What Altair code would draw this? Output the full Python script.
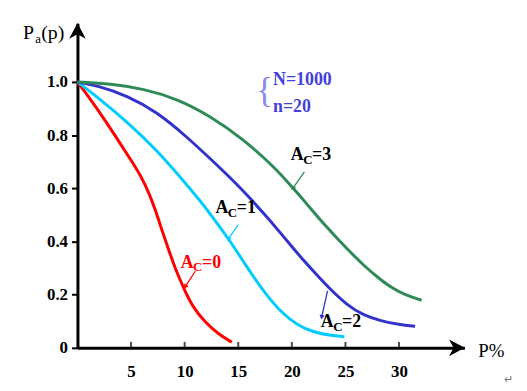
import math
import altair as alt
import pandas as pd

# ---------------- data ----------------
red_x = [0, 1.85, 3.7, 5.25, 6.0, 6.7, 7.3, 7.9, 8.5, 9.1, 9.9, 10.68, 11.9, 13.15, 14.4]
red_y = [1.0, 0.90, 0.787, 0.69, 0.64, 0.58, 0.515, 0.44, 0.37, 0.30, 0.225, 0.158, 0.096, 0.052, 0.021]

cyan_x = [0, 1.85, 4.63, 7.4, 10.2, 11.6, 12.3, 14.07, 15.8, 16.5, 17.5, 19.0, 20.6, 22.1, 23.5, 24.9]
cyan_y = [1.0, 0.943, 0.85, 0.744, 0.613, 0.545, 0.508, 0.412, 0.305, 0.263, 0.205, 0.133, 0.083, 0.058, 0.047, 0.042]

blue_x = [0, 1.85, 4.63, 7.4, 10.2, 13.0, 14.8, 16.2, 17.5, 18.7, 20.0, 21.5, 22.7, 23.3, 25.2, 26.7, 28.3, 30.0, 31.5]
blue_y = [1.0, 0.986, 0.949, 0.887, 0.794, 0.688, 0.618, 0.558, 0.50, 0.444, 0.38, 0.31, 0.258, 0.232, 0.158, 0.123, 0.101, 0.088, 0.081]

green_x = [0, 3.1, 6.17, 9.26, 12.3, 15.4, 18.5, 20.0, 20.9, 23.3, 25.2, 26.7, 28.0, 29.2, 30.5, 32.1]
green_y = [1.0, 0.993, 0.974, 0.937, 0.874, 0.787, 0.675, 0.605, 0.565, 0.45, 0.37, 0.31, 0.265, 0.228, 0.2, 0.179]

curve_names = ["Ac=0", "Ac=1", "Ac=2", "Ac=3"]
curve_colors = ["#FF0000", "#00CCFF", "#3333CC", "#2E8B57"]

x_ticks = [5, 10, 15, 20, 25, 30]
y_ticks = [0, 0.2, 0.4, 0.6, 0.8, 1.0]

# annotation labels: left x, baseline y, digit, text colour
ann_x = [9.63, 12.87, 22.7, 19.9]
ann_y = [0.302, 0.507, 0.078, 0.705]
ann_d = ["=0", "=1", "=2", "=3"]
ann_c = ["#FF0000", "#000000", "#000000", "#000000"]

# annotation arrows: start -> end (end on the curve)
arr_x1 = [10.99, 15.0, 23.33, 21.17]
arr_y1 = [0.288, 0.463, 0.214, 0.662]
arr_x2 = [10.06, 14.07, 22.78, 20.09]
arr_y2 = [0.230, 0.409, 0.115, 0.600]
arr_c = ["#FF0000", "#00CCFF", "#3333CC", "#2E8B57"]

# ---------------- geometry ----------------
X_MAX = 36.1
Y_MAX = 1.22
W = 390
H = 327
PX_X = W / X_MAX
PX_Y = H / Y_MAX

xs = alt.Scale(domain=[0, X_MAX], nice=False, zero=False)
ys = alt.Scale(domain=[0, Y_MAX], nice=False, zero=False)

FONT = "Liberation Serif"

xaxis = alt.Axis(values=x_ticks, ticks=False, labelFont=FONT, labelFontWeight="bold",
                 labelFontSize=17, labelColor="black", labelPadding=16,
                 domainColor="black", domainWidth=3, grid=False, title=None)
yaxis = alt.Axis(values=y_ticks, labelExpr="datum.value == 0 ? '0' : format(datum.value, '.1f')",
                 labelFont=FONT, labelFontWeight="bold", labelFontSize=17, labelColor="black",
                 labelPadding=4, tickColor="black", tickWidth=2, tickSize=6,
                 domainColor="black", domainWidth=3, grid=False, title=None)


def X(f):
    return alt.X(f, scale=xs, axis=xaxis)


def Y(f):
    return alt.Y(f, scale=ys, axis=yaxis)


rows = []
for name, xv, yv in zip(curve_names, [red_x, cyan_x, blue_x, green_x], [red_y, cyan_y, blue_y, green_y]):
    for a, b in zip(xv, yv):
        rows.append({"curve": name, "x": a, "y": b})
curves_df = pd.DataFrame(rows)

curves = alt.Chart(curves_df).mark_line(strokeWidth=3, interpolate="basis").encode(
    x=X("x:Q"), y=Y("y:Q"),
    color=alt.Color("curve:N", scale=alt.Scale(domain=curve_names, range=curve_colors), legend=None),
)

# inward x ticks
xt_df = pd.DataFrame({"x": x_ticks, "y": [0] * len(x_ticks)})
xticks = alt.Chart(xt_df).mark_tick(orient="vertical", size=6, thickness=2, color="black", yOffset=-3).encode(
    x=X("x:Q"), y=Y("y:Q"))

# axis arrowheads
head_df = pd.DataFrame({"x": [0, X_MAX - 8 / PX_X], "y": [Y_MAX - 8 / PX_Y, 0], "ang": [0, 90]})
arrow_path = "M0,-1 L1,0.9 L0,0.35 L-1,0.9 Z"
heads = alt.Chart(head_df).mark_point(shape=arrow_path, size=280, filled=True, color="black", opacity=1).encode(
    x=X("x:Q"), y=Y("y:Q"), angle=alt.Angle("ang:Q", scale=None))

# annotation arrows
arr_df = pd.DataFrame({"x": arr_x1, "y": arr_y1, "x2": arr_x2, "y2": arr_y2, "c": arr_c})
arr_df["ang"] = [
    (math.degrees(math.atan2((b - a) * PX_X, (d - c) * PX_Y)) + 360) % 360
    for a, b, c, d in zip(arr_x1, arr_x2, arr_y1, arr_y2)
]
arr_lines = alt.Chart(arr_df).mark_rule(strokeWidth=1.3).encode(
    x=X("x:Q"), y=Y("y:Q"), x2="x2:Q", y2="y2:Q", color=alt.Color("c:N", scale=None))
arr_heads = alt.Chart(arr_df).mark_point(shape="triangle-up", size=28, filled=True, opacity=1).encode(
    x=X("x2:Q"), y=Y("y2:Q"), angle=alt.Angle("ang:Q", scale=None), color=alt.Color("c:N", scale=None))

# annotation text A_C=k
ann_df = pd.DataFrame({"x": ann_x, "y": ann_y, "d": ann_d, "c": ann_c})


def ann_part(text_field, size, dx, dy, const=None):
    mk = alt.Chart(ann_df).mark_text(font=FONT, fontWeight="bold", fontSize=size, align="left",
                                     baseline="alphabetic", dx=dx, dy=dy)
    enc = dict(x=X("x:Q"), y=Y("y:Q"), color=alt.Color("c:N", scale=None))
    enc["text"] = alt.value(const) if const is not None else alt.Text(text_field)
    return mk.encode(**enc)


ann_A = ann_part(None, 18, 0, 0, "A")
ann_C = ann_part(None, 13, 12.5, 4, "C")
ann_D = ann_part("d:N", 18, 21.5, 0)

# N / n note
note_df = pd.DataFrame({"x": [18.24, 18.24], "y": [0.989, 0.886], "t": ["N=1000", "n=20"]})
note = alt.Chart(note_df).mark_text(font=FONT, fontWeight="bold", fontSize=18, align="left",
                                    baseline="alphabetic", color="#4242DC").encode(
    x=X("x:Q"), y=Y("y:Q"), text="t:N")
brace_df = pd.DataFrame({"x": [17.45], "y": [0.959], "t": ["{"]})
brace = alt.Chart(brace_df).mark_text(font=FONT, fontSize=36, align="center", baseline="middle",
                                      color="#8C8CE8", dy=-2).encode(
    x=X("x:Q"), y=Y("y:Q"), text="t:N")

# axis titles
t_df = pd.DataFrame({
    "x": [-5.09, -5.09, -5.09, 37.4, 39.8],
    "y": [1.16, 1.16, 1.16, -0.034, -0.134],
    "t": ["P", "a", "(p)", "P%", "\u21b5"],
    "s": [20, 13, 20, 19, 11],
    "dx": [0, 12.5, 18.5, 0, 0],
    "dy": [0, 4, 0, 0, 0],
    "c": ["#000000", "#000000", "#000000", "#000000", "#777777"],
})
titles = []
for i in range(len(t_df)):
    r = t_df.iloc[[i]]
    titles.append(alt.Chart(r).mark_text(font=FONT, fontSize=int(r["s"].iloc[0]), align="left",
                                         baseline="alphabetic", dx=float(r["dx"].iloc[0]),
                                         dy=float(r["dy"].iloc[0])).encode(
        x=X("x:Q"), y=Y("y:Q"), text="t:N", color=alt.Color("c:N", scale=None)))

chart = alt.layer(curves, xticks, heads, arr_lines, arr_heads, ann_A, ann_C, ann_D, note, brace, *titles).properties(
    width=W, height=H,
    padding={"left": 70, "top": 14, "right": 55, "bottom": 42},
    autosize=alt.AutoSizeParams(type="none"),
    background="white",
).configure_view(stroke=None)

chart.save("out.html", embed_options={"renderer": "svg", "actions": False})
